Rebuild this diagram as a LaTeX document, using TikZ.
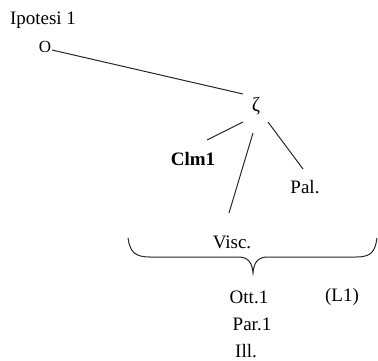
\documentclass[tikz,border=0pt]{standalone}
\usepackage{fontspec}
\setmainfont{Liberation Serif}
\usetikzlibrary{calc}
\begin{document}
\begin{tikzpicture}[x=1pt,y=-1pt,
  lbl/.style={inner sep=0pt,font=\fontsize{19}{21}\selectfont},
  conn/.style={line width=1pt,black!85}]
\useasboundingbox (0,0) rectangle (378,361);
\node[lbl] (title) at (43,20) {Ipotesi 1};
\node[lbl,font=\fontsize{17}{19}\selectfont] (O) at (45,47) {O};
\node[lbl,font=\fontsize{20}{22}\selectfont] (zeta) at (256,106) {ζ};
\node[lbl,font=\bfseries\fontsize{19}{21}\selectfont] (clm) at (193,159) {Clm1};
\node[lbl] (pal) at (305,187) {Pal.};
\node[lbl] (visc) at (232,242) {Visc.};
\node[lbl] (ott) at (249,297) {Ott.1};
\node[lbl] (l1) at (342,297) {(L1)};
\node[lbl] (par) at (252,324) {Par.1};
\node[lbl] (ill) at (246,351) {Ill.};
\draw[conn] ($(O)+(7,3)$) -- ($(zeta)+(-13,-12)$);
\draw[conn] ($(zeta)+(-13,16)$) -- ($(clm)+(14,-19)$);
\draw[conn] ($(zeta)+(-3,27)$) -- ($(visc)+(-3,-29)$);
\draw[conn] ($(zeta)+(12,16)$) -- ($(pal)+(-2,-18)$);
\draw[conn] (128,238) .. controls (130,252) and (135,257) .. (150,257)
  -- (238,257) .. controls (248,257) and (252,262) .. (253,273)
  .. controls (254,262) and (258,257) .. (268,257)
  -- (356,257) .. controls (371,257) and (375,252) .. (377,238);
\end{tikzpicture}
\end{document}
